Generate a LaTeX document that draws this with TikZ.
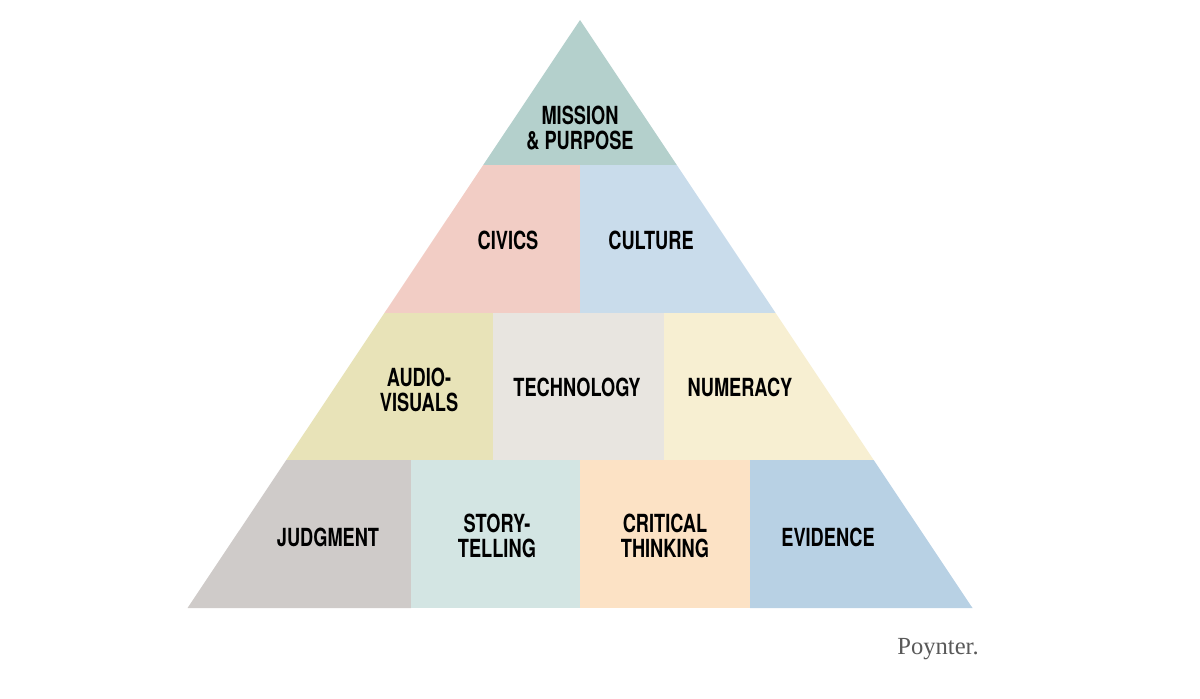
\documentclass[tikz,border=0pt]{standalone}
\usepackage{fontspec}
\usepackage{tikz}
\usetikzlibrary{positioning,calc}
\newfontfamily\condfont[FakeStretch=0.73]{TeX Gyre Heros}
\setmainfont{Liberation Serif}
\definecolor{missioncol}{HTML}{B4D0CC}
\definecolor{civicscol}{HTML}{F2CDC5}
\definecolor{culturecol}{HTML}{C9DCEB}
\definecolor{audiocol}{HTML}{E8E3B8}
\definecolor{techcol}{HTML}{E8E5E0}
\definecolor{numcol}{HTML}{F7EFD2}
\definecolor{judgecol}{HTML}{CFCBC9}
\definecolor{storycol}{HTML}{D3E5E3}
\definecolor{critcol}{HTML}{FCE2C5}
\definecolor{evidcol}{HTML}{B8D1E4}
\tikzset{
  lbl/.style={font=\condfont\bfseries\fontsize{14.2}{14.2}\selectfont,align=center,inner sep=0pt,text=black},
  brand/.style={font=\fontsize{14}{16}\selectfont,inner sep=0pt,text=black!65}
}

\begin{document}
\begin{tikzpicture}[x=0.02cm,y=-0.02cm]
    \useasboundingbox (0,0) rectangle (1200,698);

    % top
    \fill[missioncol] (580,20) -- (676.8,165) -- (483.2,165) -- cycle;
    % second row
    \fill[civicscol] (483.2,165) -- (580,165) -- (580,313) -- (384.4,313) -- cycle;
    \fill[culturecol] (580,165) -- (676.8,165) -- (775.6,313) -- (580,313) -- cycle;
    % third row
    \fill[audiocol] (384.4,313) -- (493,313) -- (493,460) -- (286.3,460) -- cycle;
    \fill[techcol] (493,313) rectangle (664,460);
    \fill[numcol] (664,313) -- (775.6,313) -- (873.7,460) -- (664,460) -- cycle;
    % base row
    \fill[judgecol] (286.3,460) -- (411,460) -- (411,608) -- (187.5,608) -- cycle;
    \fill[storycol] (411,460) rectangle (580,608);
    \fill[critcol] (580,460) rectangle (750,608);
    \fill[evidcol] (750,460) -- (873.7,460) -- (972.5,608) -- (750,608) -- cycle;

    \node[lbl] (mission) at (580,128) {MISSION\\\& PURPOSE};
    \node[lbl] (civics) at (508,240) {CIVICS};
    \node[lbl] (culture) at (651,240) {CULTURE};
    \node[lbl] (audio) at (419,390) {AUDIO-\\VISUALS};
    \node[lbl] (tech) at (577,387) {TECHNOLOGY};
    \node[lbl] (numeracy) at (740,387) {NUMERACY};
    \node[lbl] (judgment) at (328,537) {JUDGMENT};
    \node[lbl] (story) at (497,536) {STORY-\\TELLING};
    \node[lbl] (critical) at (665,536) {CRITICAL\\THINKING};
    \node[lbl] (evidence) at (828,537) {EVIDENCE};

    \node[brand] (poynter) at (938,649) {Poynter.};
\end{tikzpicture}
\end{document}
